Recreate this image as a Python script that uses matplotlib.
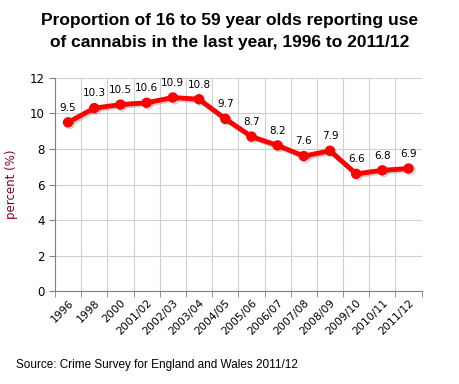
import matplotlib
matplotlib.use('Agg')
import matplotlib.pyplot as plt
import matplotlib.patheffects as pe

years = ["1996", "1998", "2000", "2001/02", "2002/03", "2003/04", "2004/05",
         "2005/06", "2006/07", "2007/08", "2008/09", "2009/10", "2010/11", "2011/12"]
values = [9.5, 10.3, 10.5, 10.6, 10.9, 10.8, 9.7, 8.7, 8.2, 7.6, 7.9, 6.6, 6.8, 6.9]
y_ticks = [0, 2, 4, 6, 8, 10, 12]

fig = plt.figure(figsize=(4.6, 3.84), dpi=100)
ax = fig.add_axes([0.1196, 0.242, 0.797, 0.555])

x = list(range(len(years)))
ax.plot(x, values, color='#ff0000', lw=3.5, marker='o', ms=6.5,
        solid_capstyle='round', solid_joinstyle='round', zorder=3,
        path_effects=[pe.SimpleLineShadow(offset=(1.2, -1.2), shadow_color='#404040', alpha=0.25),
                      pe.Normal()])
for xi, v in zip(x, values):
    ax.annotate(f"{v}", (xi, v), xytext=(0, 7), textcoords='offset points',
                ha='center', va='bottom', fontsize=7.5, family='DejaVu Sans')

ax.set_xlim(-0.5, len(years) - 0.5)
ax.set_ylim(0, 12)
ax.set_yticks(y_ticks)
ax.set_xticks(x)
ax.set_xticklabels(years, rotation=45, ha='right', rotation_mode='anchor',
                   fontsize=7.8, family='DejaVu Sans')
ax.set_xticks([i - 0.5 for i in range(len(years) + 1)], minor=True)
ax.tick_params(axis='x', which='major', length=0, pad=5)
ax.tick_params(axis='x', which='minor', length=4, color='#808080')
ax.tick_params(axis='y', length=4, color='#808080', labelsize=8.5)
for lab in ax.get_yticklabels():
    lab.set_family('DejaVu Sans')
ax.grid(axis='y', color='#d0d0d0', lw=0.8)
ax.grid(axis='x', which='minor', color='#d0d0d0', lw=0.8)
ax.set_axisbelow(True)
for s in ['top', 'right']:
    ax.spines[s].set_visible(False)
for s in ['left', 'bottom']:
    ax.spines[s].set_color('#808080')
ax.set_ylabel("percent (%)", color='#800020', fontsize=8.5, family='DejaVu Sans', labelpad=8)

fig.text(0.5, 0.918, "Proportion of 16 to 59 year olds reporting use\nof cannabis in the last year, 1996 to 2011/12",
         ha='center', va='center', fontsize=12.5, fontweight='bold', family='Liberation Sans',
         linespacing=1.55)
fig.text(0.035, 0.05, "Source: Crime Survey for England and Wales 2011/12",
         ha='left', va='center', fontsize=8.5, family='Liberation Sans')

fig.savefig('out.png', dpi=100)
